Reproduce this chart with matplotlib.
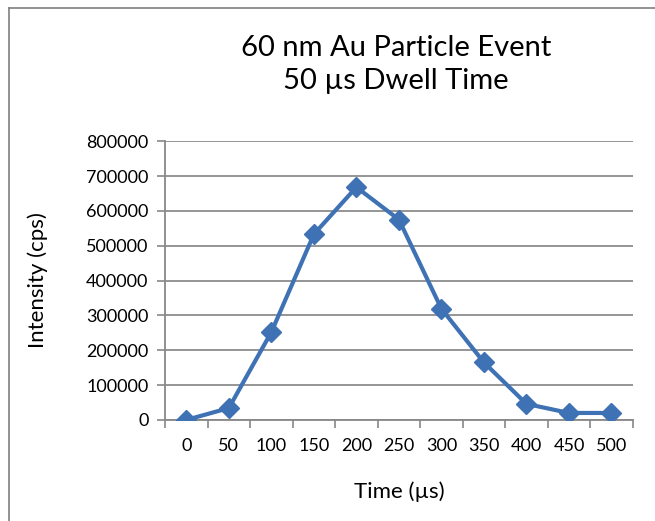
import matplotlib.pyplot as plt
from matplotlib.lines import Line2D
from matplotlib.ticker import FixedLocator, NullFormatter

plt.rcParams['font.family'] = ['Lato', 'DejaVu Sans']

# Tempo (µs) e intensidade (cps)
time_labels = ['0', '50', '100', '150', '200', '250', '300', '350', '400', '450', '500']
intensity = [0, 34000, 252000, 533000, 668000, 575000, 319000, 165000, 46000, 20000, 20000]
y_ticks = [0, 100000, 200000, 300000, 400000, 500000, 600000, 700000, 800000]

fig = plt.figure(figsize=(6.55, 5.21), dpi=100)
ax = fig.add_axes([0.252, 0.194, 0.714, 0.535])

x = list(range(len(time_labels)))
ax.plot(x, intensity, color='#3f72b5', linewidth=3, marker='D', markersize=10,
        markerfacecolor='#3f72b5', markeredgecolor='#3f72b5', zorder=3)

ax.set_xlim(-0.5, len(time_labels) - 0.5)
ax.set_ylim(0, 800000)
ax.set_xticks(x)
ax.set_xticklabels(time_labels, fontsize=13)
ax.tick_params(axis='x', which='major', length=0, pad=13)
ax.xaxis.set_minor_locator(FixedLocator([i - 0.5 for i in range(len(time_labels) + 1)]))
ax.xaxis.set_minor_formatter(NullFormatter())
ax.tick_params(axis='x', which='minor', length=6, width=1.2, color='#888888', direction='out')

ax.set_yticks(y_ticks)
ax.set_yticklabels([str(v) for v in y_ticks], fontsize=13)
ax.tick_params(axis='y', length=6, width=1.2, color='#888888', direction='out', pad=6)

ax.grid(axis='y', color='#8c8c8c', linewidth=1.3)
ax.set_axisbelow(True)
for side in ['top', 'right']:
    ax.spines[side].set_visible(False)
for side in ['left', 'bottom']:
    ax.spines[side].set_color('#888888')
    ax.spines[side].set_linewidth(1.3)

ax.set_xlabel('Time (µs)', fontsize=16)
ax.set_ylabel('Intensity (cps)', fontsize=16)
ax.xaxis.set_label_coords(0.5, -0.258)
ax.xaxis.label.set_va('center')
ax.yaxis.set_label_coords(-0.273, 0.5)
ax.yaxis.label.set_va('center')

fig.text(0.605, 0.876, '60 nm Au Particle Event\n50 µs Dwell Time', ha='center', va='center',
         fontsize=21, linespacing=1.3)

# moldura cinza (superior e esquerda)
fig.add_artist(Line2D([0.013, 1.0], [0.985, 0.985], color='#7f7f7f', linewidth=1.2))
fig.add_artist(Line2D([0.013, 0.013], [0.0, 0.985], color='#7f7f7f', linewidth=1.2))

fig.savefig('out.png', dpi=100)
